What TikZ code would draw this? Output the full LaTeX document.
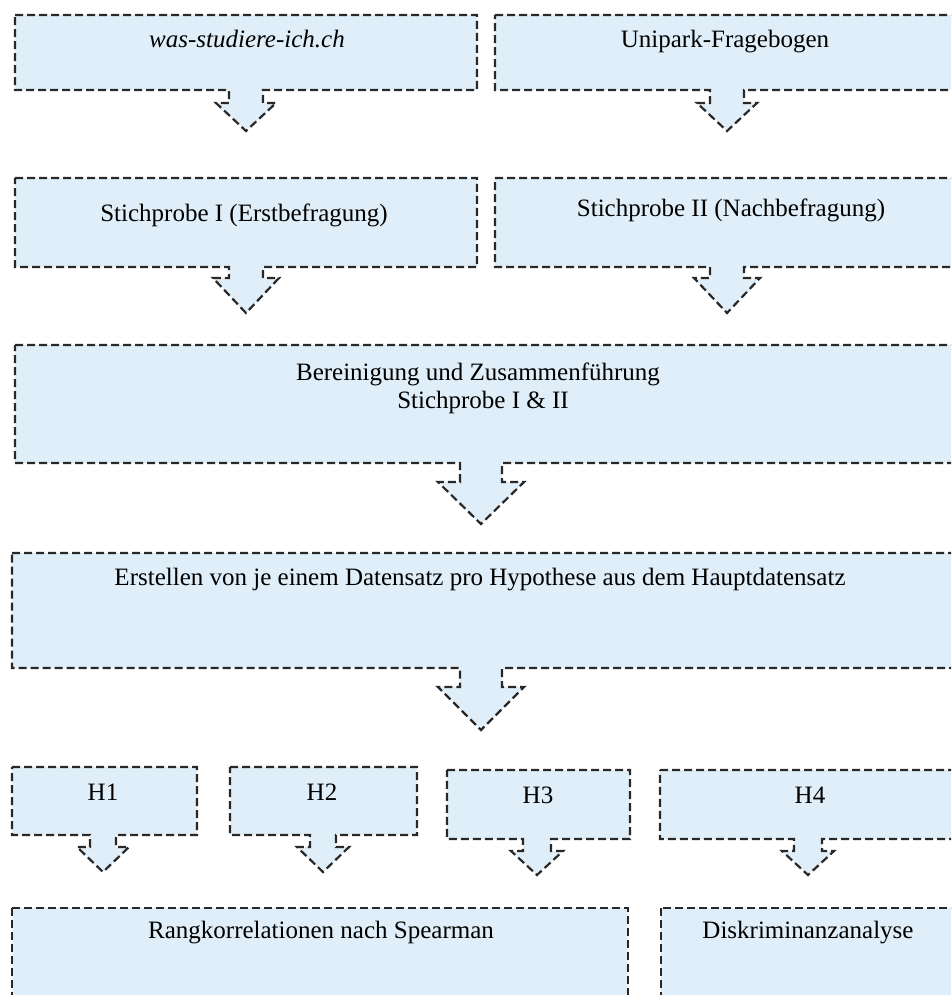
\documentclass[tikz,border=0pt]{standalone}
\usepackage{fontspec}
\setmainfont{Liberation Serif}
\definecolor{boxblue}{RGB}{223,238,248}
\definecolor{edge}{RGB}{40,40,40}
\tikzset{
  cbox/.style={draw=edge, fill=boxblue, line width=2.2pt, dash pattern=on 8pt off 4pt, line join=miter},
  lbl/.style={font=\fontsize{25}{28}\selectfont, inner sep=0pt, anchor=base, text=black, align=center}
}
% \callout{left}{top}{right}{bottom}{arrow x}{shaft half}{wing half}{wing y}{tip y}
\newcommand\callout[9]{%
  \path[cbox] (#1,#2) -- (#3,#2) -- (#3,#4) -- ({#5+#6},#4) -- ({#5+#6},#8) -- ({#5+#7},#8)
    -- (#5,#9) -- ({#5-#7},#8) -- ({#5-#6},#8) -- ({#5-#6},#4) -- (#1,#4) -- cycle;}
\begin{document}
\begin{tikzpicture}[x=1pt,y=-1pt]
\useasboundingbox (0,0) rectangle (951,995);
\clip (0,0) rectangle (951,995);
\fill[white] (0,0) rectangle (951,995);
% row 1
\callout{15}{15}{477}{90}{246}{17}{30}{103}{131}
\callout{495}{15}{960}{90}{727}{17}{30}{103}{131}
\node[lbl] (src1) at (247,48) {\itshape was-studiere-ich.ch};
\node[lbl] (src2) at (725,48) {Unipark-Fragebogen};
% row 2
\callout{15}{178}{477}{267}{246}{17}{33}{278}{313}
\callout{495}{178}{960}{267}{727}{17}{33}{278}{313}
\node[lbl] (sp1) at (244,221) {Stichprobe I (Erstbefragung)};
\node[lbl] (sp2) at (731,216) {Stichprobe II (Nachbefragung)};
% row 3
\callout{15}{345}{960}{463}{481}{21}{43}{482}{524}
\node[lbl] (merge) at (478,380) {Bereinigung und Zusammenführung};
\node[lbl] (merge2) at (483,408) {Stichprobe I \& II};
% row 4
\callout{12}{553}{955}{668}{481}{21}{43}{687}{730}
\node[lbl] (split) at (480,585) {Erstellen von je einem Datensatz pro Hypothese aus dem Hauptdatensatz};
% row 5
\callout{12}{767}{197}{835}{103}{13}{26}{847}{872}
\callout{230}{767}{417}{835}{323}{13}{26}{847}{872}
\callout{447}{770}{630}{839}{537}{14}{26}{851}{875}
\callout{660}{770}{960}{839}{808}{14}{26}{851}{875}
\node[lbl] (h1) at (103,800) {H1};
\node[lbl] (h2) at (322,800) {H2};
\node[lbl] (h3) at (538,803) {H3};
\node[lbl] (h4) at (810,803) {H4};
% row 6
\path[cbox] (12,908) rectangle (628,1010);
\path[cbox] (661,908) rectangle (960,1010);
\node[lbl] (spear) at (321,938) {Rangkorrelationen nach Spearman};
\node[lbl] (disk) at (808,938) {Diskriminanzanalyse};
\end{tikzpicture}
\end{document}
